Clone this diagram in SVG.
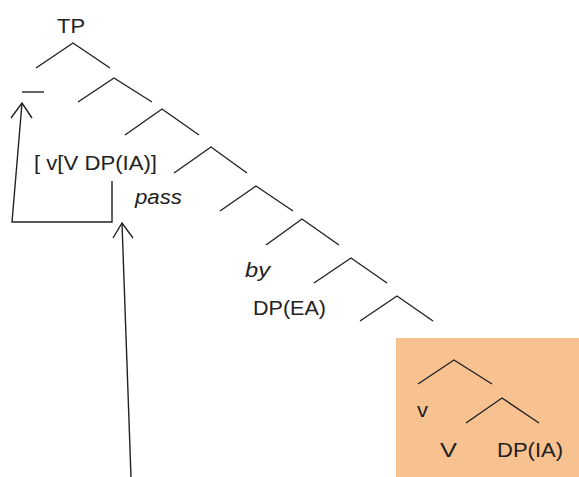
<svg xmlns="http://www.w3.org/2000/svg" width="579" height="477" viewBox="0 0 579 477">
  <style>
    .br { fill: none; stroke: #222; stroke-width: 1.4; stroke-linejoin: miter; }
    .ln { fill: none; stroke: #222; stroke-width: 1.4; }
    .t { font-family: "Liberation Sans", Arial, sans-serif; font-size: 20px; fill: #222; }
    .it { font-style: italic; }
  </style>
  <rect width="579" height="477" fill="#ffffff"/>

  <!-- shaded subtree region -->
  <rect id="vp-box" x="396" y="338" width="183" height="139" fill="#F8C190"/>

  <g id="tp">
    <text class="t" x="57" y="33" textLength="28" lengthAdjust="spacingAndGlyphs">TP</text>
    <polyline class="br" points="36,68 73,43 110,68"/>
  </g>
  <g id="gap">
    <line class="ln" x1="22" y1="92" x2="44" y2="92"/>
  </g>
  <g id="branch2"><polyline class="br" points="78,102 114,78 152,102"/></g>
  <g id="branch3"><polyline class="br" points="125,135 162,109 199,135"/></g>
  <g id="moved-vp">
    <text class="t" x="34" y="170" textLength="123" lengthAdjust="spacingAndGlyphs">[ v[V DP(IA)]</text>
  </g>
  <g id="branch4"><polyline class="br" points="174,173 211,147 247,173"/></g>
  <g id="pass">
    <text class="t it" x="135" y="204" textLength="47" lengthAdjust="spacingAndGlyphs">pass</text>
  </g>
  <g id="branch5"><polyline class="br" points="220,211 256,186 293,211"/></g>
  <g id="branch6"><polyline class="br" points="266,245 302,219 339,245"/></g>
  <g id="by">
    <text class="t it" x="245" y="277" textLength="25" lengthAdjust="spacingAndGlyphs">by</text>
  </g>
  <g id="branch7"><polyline class="br" points="314,283 351,258 387,283"/></g>
  <g id="dp-ea">
    <text class="t" x="253" y="315" textLength="73" lengthAdjust="spacingAndGlyphs">DP(EA)</text>
  </g>
  <g id="branch8"><polyline class="br" points="360,321 397,296 433,321"/></g>

  <g id="little-v">
    <polyline class="br" points="418,384 454,360 492,384"/>
    <text class="t" x="417" y="417" textLength="11" lengthAdjust="spacingAndGlyphs">v</text>
  </g>
  <g id="big-v">
    <polyline class="br" points="466,423 502,398 539,423"/>
    <text class="t" x="440" y="457" textLength="17" lengthAdjust="spacingAndGlyphs">V</text>
  </g>
  <g id="dp-ia">
    <text class="t" x="497" y="457" textLength="66" lengthAdjust="spacingAndGlyphs">DP(IA)</text>
  </g>

  <g id="connectors">
    <!-- movement of the vP to the specifier position -->
    <polyline class="ln" points="112,181 112,222 12,222 22,103"/>
    <polyline class="ln" points="11,118 22,103 32,118"/>
    <!-- incoming arrow from below -->
    <line class="ln" x1="131" y1="477" x2="122" y2="223"/>
    <polyline class="ln" points="113,238 122,223 133,238"/>
  </g>
</svg>
